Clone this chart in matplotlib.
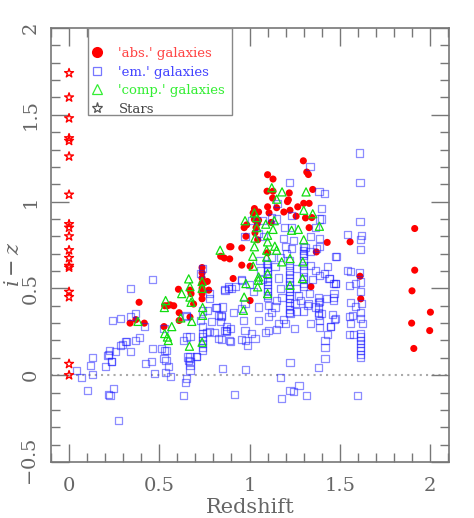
import matplotlib
matplotlib.use('Agg')
import matplotlib.pyplot as plt
from matplotlib.lines import Line2D
from matplotlib.patches import Rectangle
import numpy as np

# 'abs.' galaxies (red filled circles)
abs_z = [0.338, 0.37, 0.388, 0.417, 0.526, 0.53, 0.545, 0.56, 0.58, 0.606, 0.61, 0.61, 0.67, 0.67,
         0.676, 0.69, 0.737, 0.737, 0.737, 0.737, 0.737, 0.737, 0.737, 0.766, 0.774, 0.84, 0.86,
         0.89, 0.897, 0.89, 0.909, 0.957, 0.957, 1.003, 1.003, 0.98, 1.03, 1.045, 0.984, 0.97,
         1.036, 1.027, 1.05, 1.043, 1.027, 1.02, 1.05, 1.10, 1.13, 1.097, 1.13, 1.128, 1.10, 1.15,
         1.108, 1.12, 1.10, 1.19, 1.215, 1.21, 1.22, 1.224, 1.267, 1.258, 1.298, 1.317, 1.326, 1.35,
         1.30, 1.33, 1.31, 1.345, 1.33, 1.37, 1.43, 1.34, 1.557, 1.612, 1.616, 1.915, 1.915, 1.90,
         2.002, 1.898, 1.998, 1.91]
abs_iz = [0.30, 0.32, 0.42, 0.30, 0.28, 0.40, 0.40, 0.405, 0.40, 0.495, 0.36, 0.315, 0.335, 0.49,
          0.47, 0.41, 0.62, 0.59, 0.56, 0.53, 0.50, 0.47, 0.44, 0.54, 0.49, 0.685, 0.675,
          0.74, 0.74, 0.67, 0.557, 0.733, 0.634, 0.628, 0.43, 0.80, 0.82, 0.78, 0.866, 0.85,
          0.85, 0.897, 0.893, 0.874, 0.96, 0.935, 0.94, 1.155, 1.13, 1.06, 1.06, 1.02, 0.97, 0.965,
          0.935, 0.88, 0.705, 0.94, 1.01, 1.0, 1.05, 0.95, 0.97, 0.916, 1.235, 1.17, 1.156, 1.07,
          0.99, 0.99, 0.906, 0.908, 0.85, 0.71, 0.765, 0.51, 0.768, 0.57, 0.44, 0.845, 0.605, 0.486,
          0.363, 0.30, 0.257, 0.154]

# 'comp.' galaxies (green open triangles)
comp_z = [0.382, 0.528, 0.535, 0.53, 0.545, 0.55, 0.569, 0.619, 0.624, 0.663, 0.67, 0.67, 0.676,
          0.68, 0.667, 0.737, 0.737, 0.74, 0.74, 0.737, 0.837, 1.123, 1.18, 1.313, 1.15, 1.027,
          1.30, 1.35, 0.975, 1.04, 1.137, 1.04, 1.09, 1.13, 1.233, 1.27, 1.387, 1.03, 1.10, 1.30,
          1.027, 1.10, 1.14, 1.095, 1.15, 1.018, 1.095, 1.224, 1.02, 1.178, 1.295, 1.05, 1.10,
          1.293, 0.98, 1.045, 1.224, 1.049, 0.97, 0.966, 1.10]
comp_iz = [0.31, 0.39, 0.43, 0.24, 0.22, 0.20, 0.28, 0.33, 0.47, 0.555, 0.51, 0.45, 0.42,
           0.31, 0.167, 0.54, 0.50, 0.39, 0.345, 0.19, 0.72, 1.08, 1.056, 1.056, 1.014, 0.935,
           0.95, 0.93, 0.89, 0.908, 0.89, 0.85, 0.87, 0.84, 0.835, 0.84, 0.858, 0.79, 0.806, 0.78,
           0.74, 0.768, 0.743, 0.72, 0.72, 0.685, 0.68, 0.672, 0.628, 0.653, 0.653, 0.566, 0.586,
           0.557, 0.528, 0.509, 0.518, 0.547, 0.45, 0.374, 0.47]

# 'em.' galaxies (blue open squares)
em_z = [0.042, 0.07, 0.103, 0.12, 0.129, 0.129, 0.20, 0.216, 0.22, 0.223, 0.233, 0.236, 0.218,
        0.248, 0.227, 0.255, 0.275, 0.242, 0.283, 0.297, 0.283, 0.312, 0.316, 0.338, 0.338, 0.338,
        0.366, 0.37, 0.388, 0.419, 0.425, 0.456, 0.462, 0.46, 0.471, 0.513, 0.53, 0.54, 0.526,
        0.537, 0.55, 0.532, 0.563, 0.526, 0.633, 0.646, 0.652, 0.648, 0.652, 0.633, 0.652, 0.67,
        0.657, 0.66, 0.67, 0.67, 0.67, 0.67, 0.704, 0.707,
        0.738, 0.738, 0.738, 0.738, 0.738, 0.738, 0.737, 0.726, 0.74, 0.73, 0.74, 0.763, 0.78,
        0.805, 0.78, 0.777, 0.766, 0.814, 0.848, 0.818, 0.846, 0.842, 0.859, 0.883, 0.837, 0.79,
        0.827, 0.87, 0.873, 0.864, 0.846, 0.829, 0.848, 0.89,
        0.864, 0.883, 0.90, 0.92, 0.957, 0.957, 0.909, 0.966, 0.975, 0.892, 0.874, 0.897, 0.953,
        0.99, 0.979, 1.03, 1.012, 1.086, 1.104, 1.15, 1.049, 1.104, 1.16, 1.19, 1.247, 1.224,
        1.261, 1.30, 1.34, 1.39, 1.431, 1.418, 1.418, 1.418, 1.383, 1.224, 0.979, 1.169, 1.224,
        1.274, 1.245, 1.313, 1.178, 0.916, 1.44, 1.474, 1.464, 1.428, 1.47, 1.446, 1.40, 1.363,
        1.104, 1.141, 1.049, 0.975, 0.953, 1.252, 1.28, 1.326, 1.39, 1.38, 1.39,
        1.335, 1.219, 1.385, 1.414, 1.40, 1.387, 1.40, 1.156, 1.15, 1.071, 1.01, 1.233, 1.193,
        1.23, 1.123, 1.363, 1.39, 1.34, 1.187, 1.243, 1.049, 1.076, 0.975, 1.233, 1.307, 1.298,
        1.335, 1.372, 1.39, 1.48, 1.433, 1.413, 1.442, 1.464, 1.39, 1.169, 1.206, 1.123, 1.058,
        1.197, 1.141, 1.095, 1.261, 1.34, 1.363,
        1.10, 1.10, 1.10, 1.10, 1.10, 1.10, 1.10, 1.10, 1.10, 1.10, 1.10,
        1.22, 1.22, 1.22, 1.22, 1.22, 1.22, 1.22, 1.22, 1.22, 1.22, 1.22, 1.22, 1.22, 1.22, 1.22,
        1.30, 1.30, 1.30, 1.30, 1.30, 1.30, 1.30, 1.30, 1.30, 1.30,
        1.38, 1.38, 1.38, 1.38,
        1.06, 1.07, 1.16, 1.17, 1.18, 1.26, 1.27, 1.33, 1.35, 1.02, 1.0, 1.15, 1.20, 1.12, 1.32,
        1.608, 1.612, 1.612, 1.622, 1.544, 1.616, 1.616, 1.478, 1.544, 1.557, 1.607, 1.616, 1.585,
        1.474, 1.553, 1.616, 1.468, 1.464, 1.557, 1.622, 1.585, 1.616, 1.572, 1.553, 1.474, 1.46,
        1.627, 1.557, 1.446, 1.616, 1.575, 1.553,
        1.616, 1.616, 1.616, 1.616, 1.616, 1.616, 1.616, 1.616, 1.597]
em_iz = [0.025, -0.015, -0.09, 0.058, 0.10, 0.006, 0.052, 0.115, 0.119, 0.144, 0.077, 0.08, -0.11,
         -0.077, -0.115, 0.134, -0.26, 0.313, 0.325, 0.177, 0.171, 0.196, 0.196, 0.134, 0.50, 0.34,
         0.355, 0.20, 0.217, 0.28, 0.067, 0.077, 0.553, 0.154, 0.01, 0.153, 0.144, 0.14, 0.096,
         0.086, 0.048, 0.013, -0.006, 0.27, -0.117, -0.044, -0.019, 0.345, 0.34, 0.198, 0.22, 0.225,
         0.105, 0.086, 0.105, 0.08, 0.058, 0.03, 0.11, 0.109,
         0.24, 0.22, 0.20, 0.18, 0.16, 0.144, 0.615, 0.585, 0.37, 0.317, 0.28, 0.244, 0.25,
         0.244, 0.47, 0.44, 0.374, 0.39, 0.393, 0.39, 0.336, 0.345, 0.494, 0.50, 0.307, 0.307,
         0.345, 0.278, 0.25, 0.26, 0.205, 0.21, 0.039, 0.20,
         0.49, 0.509, 0.50, 0.509, 0.551, 0.547, 0.36, 0.317, 0.26, 0.27, 0.255, 0.196, 0.206,
         0.173, 0.198, 0.21, 0.24, 0.244, 0.26, 0.263, 0.317, 0.336, 0.298, 0.32, 0.27, 0.355,
         0.365, 0.37, 0.30, 0.275, 0.234, 0.198, 0.16, 0.098, 0.044, 0.073, 0.033, -0.015, -0.086,
         -0.06, -0.096, -0.115, -0.134, -0.113, 0.557, 0.528, 0.45, 0.44, 0.32, 0.278, 0.355, 0.393,
         0.40, 0.393, 0.393, 0.413, 0.384, 0.413, 0.432, 0.413, 0.422, 0.345, 0.317,
         1.204, 1.11, 1.056, 1.047, 0.96, 0.90, 0.90, 0.99, 0.90, 0.893, 0.893, 0.92, 0.85,
         0.85, 0.91, 0.85, 0.787, 0.80, 0.787, 0.778, 0.816, 0.797, 0.797, 0.73, 0.733, 0.70,
         0.71, 0.73, 0.74, 0.685, 0.624, 0.586, 0.557, 0.53, 0.576, 0.68, 0.70, 0.68, 0.662,
         0.743, 0.624, 0.643, 0.614, 0.634, 0.605,
         0.64, 0.62, 0.60, 0.58, 0.56, 0.54, 0.52, 0.50, 0.48, 0.46, 0.45,
         0.66, 0.63, 0.60, 0.58, 0.56, 0.54, 0.52, 0.50, 0.48, 0.46, 0.44, 0.42, 0.40, 0.38, 0.36,
         0.74, 0.72, 0.69, 0.66, 0.63, 0.60, 0.57, 0.55, 0.53, 0.51,
         0.45, 0.42, 0.39, 0.36,
         0.60, 0.55, 0.56, 0.50, 0.45, 0.50, 0.46, 0.47, 0.55, 0.48, 0.52, 0.43, 0.30, 0.36, 0.40,
         1.28, 1.11, 0.887, 0.805, 0.81, 0.78, 0.726, 0.685, 0.605, 0.595, 0.59, 0.537, 0.528,
         0.528, 0.518, 0.48, 0.47, 0.432, 0.419, 0.413, 0.397, 0.36, 0.342, 0.336, 0.327, 0.351,
         0.298, 0.298, 0.282, 0.327, 0.236, 0.236,
         0.24, 0.22, 0.20, 0.18, 0.16, 0.14, 0.12, 0.10, -0.115]

# stars, all at redshift 0
star_iz = [1.74, 1.60, 1.48, 1.365, 1.35, 1.26, 1.04, 0.87, 0.85, 0.80, 0.72, 0.675, 0.63, 0.62,
           0.48, 0.45, 0.065, 0.0]
star_z = np.zeros(len(star_iz))

GREY = '#666666'
plt.rcParams['font.family'] = ['DejaVu Serif']
plt.rcParams['mathtext.fontset'] = 'dejavuserif'

fig = plt.figure(figsize=(4.74, 5.18), dpi=100)
ax = fig.add_axes([51 / 474, 56 / 518, 398 / 474, 434 / 518])

ax.axhline(0, color='#aaaaaa', ls=(0, (1, 2)), lw=1.5, zorder=1)

ax.scatter(abs_z, abs_iz, s=26, marker='o', c='#ff0000', edgecolors='none', zorder=2)
ax.scatter(em_z, em_iz, s=26, marker='s', facecolors='none',
           edgecolors=(0.1, 0.1, 1.0, 0.5), linewidths=0.9, zorder=3)
ax.scatter(comp_z, comp_iz, s=34, marker='^', facecolors='none',
           edgecolors='#11dd11', linewidths=0.9, zorder=4)
ax.scatter(star_z, star_iz, s=45, marker='*', facecolors='none',
           edgecolors='#ff0000', linewidths=1.0, zorder=4)

ax.set_xlim(-0.1, 2.105)
ax.set_ylim(-0.5, 2.0)
ax.set_xticks(np.arange(0, 2.01, 0.5))
ax.set_xticklabels(['0', '0.5', '1', '1.5', '2'])
ax.set_xticks(np.arange(-0.1, 2.11, 0.1), minor=True)
ax.set_yticks(np.arange(-0.5, 2.01, 0.5))
ax.set_yticklabels(['$-$0.5', '0', '0.5', '1', '1.5', '2'], rotation=90, va='center')
ax.set_yticks(np.arange(-0.5, 2.01, 0.1), minor=True)

ax.tick_params(which='both', direction='in', top=True, right=True, color='#777777',
               labelcolor=GREY, labelsize=14)
ax.tick_params(which='major', length=13, width=1)
ax.tick_params(axis='x', which='major', pad=11)
ax.tick_params(axis='y', which='major', pad=8)
ax.tick_params(which='minor', length=6.5, width=1)
for sp in ax.spines.values():
    sp.set_color('#777777')
    sp.set_linewidth(1.2)

ax.set_xlabel('Redshift', fontsize=15, color=GREY, labelpad=2)
ax.set_ylabel('$i-z$', fontsize=15, color=GREY)
ax.yaxis.set_label_coords(-0.07, 0.455)

# legend box hangs from the top axis
ax.add_patch(Rectangle((37 / 398, 347 / 434), 144 / 398, 87 / 434, transform=ax.transAxes,
                       facecolor='white', edgecolor='#888888', lw=1.0, zorder=5))
handles = [
    Line2D([], [], ls='none', marker='o', ms=8, mfc='#ff0000', mec='none'),
    Line2D([], [], ls='none', marker='s', ms=6, mfc='none', mec='#7777ff', mew=0.9),
    Line2D([], [], ls='none', marker='^', ms=7, mfc='none', mec='#33ee33', mew=0.9),
    Line2D([], [], ls='none', marker='*', ms=8, mfc='none', mec='#555555', mew=0.9),
]
labels = ["'abs.' galaxies", "'em.' galaxies", "'comp.' galaxies", "Stars"]
leg = ax.legend(handles, labels, loc='upper left', bbox_to_anchor=(41 / 398, 415 / 434),
                frameon=False, fontsize=9.5, handlelength=0.8, handletextpad=1.2,
                labelspacing=0.42, borderpad=0, borderaxespad=0)
leg.set_zorder(6)
for txt, col in zip(leg.get_texts(), ['#ff4444', '#4444ff', '#33ee33', '#444444']):
    txt.set_color(col)

fig.savefig('out.png', dpi=100)
